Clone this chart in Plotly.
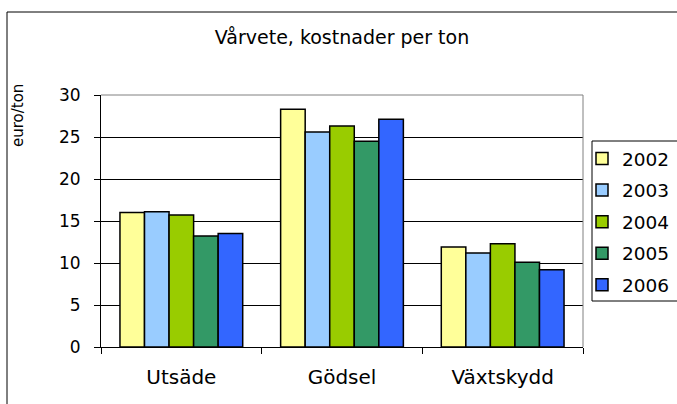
import plotly.graph_objects as go

categories = ["Utsäde", "Gödsel", "Växtskydd"]
years = ["2002", "2003", "2004", "2005", "2006"]
values_2002 = [16.0, 28.3, 11.9]
values_2003 = [16.1, 25.6, 11.2]
values_2004 = [15.7, 26.3, 12.3]
values_2005 = [13.2, 24.5, 10.1]
values_2006 = [13.5, 27.1, 9.2]
series = [values_2002, values_2003, values_2004, values_2005, values_2006]
colors = ["#FFFF99", "#99CCFF", "#99CC00", "#339966", "#3366FF"]
y_ticks = [0, 5, 10, 15, 20, 25, 30]

W, H = 677, 404
L, R, T, B = 101, 583, 95, 347
pw, ph = R - L, B - T
FONT = "DejaVu Sans, Verdana, sans-serif"

fig = go.Figure()
for i, (yr, vals) in enumerate(zip(years, series)):
    fig.add_trace(go.Bar(
        name=yr, x=categories, y=vals,
        marker=dict(color=colors[i], line=dict(color="black", width=1.5)),
        legendgroup=yr,
    ))

def px_x(p):
    return (p - L) / pw

def px_y(p):
    return (B - p) / ph

fig.update_layout(
    width=W, height=H,
    margin=dict(l=L, r=W - R, t=T, b=H - B, pad=0, autoexpand=False),
    paper_bgcolor="white", plot_bgcolor="white",
    barmode="group", bargap=0.236, bargroupgap=0,
    font=dict(family=FONT, color="black", size=16),
    title=dict(text="Vårvete, kostnader per ton", x=px_x(342), xanchor="center",
               xref="paper", y=1 - 37 / H, yanchor="middle",
               font=dict(size=19, family=FONT)),
    showlegend=True,
    legend=dict(x=px_x(582), y=px_y(140), xanchor="left", yanchor="top",
                borderwidth=0, bgcolor="rgba(0,0,0,0)",
                font=dict(size=18.5, family=FONT), traceorder="grouped",
                tracegroupgap=4.5, itemwidth=30),
    xaxis=dict(showline=True, linecolor="black", linewidth=1, ticks="outside",
               tickson="boundaries", ticklen=6, tickcolor="black",
               tickfont=dict(size=20, family=FONT), showgrid=False,
               automargin=False, ticklabelstandoff=12),
    yaxis=dict(range=[0, 30], tickvals=y_ticks, showline=True, linecolor="black",
               linewidth=1, ticks="outside", ticklen=6, tickcolor="black",
               showgrid=True, gridcolor="black", gridwidth=1, zeroline=False,
               tickfont=dict(size=17, family=FONT), automargin=False,
               ticklabelstandoff=10),
    shapes=[
        dict(type="line", xref="paper", yref="paper", x0=0, x1=1, y0=1, y1=1,
             line=dict(color="#808080", width=1)),
        dict(type="line", xref="paper", yref="paper", x0=1, x1=1, y0=0, y1=1,
             line=dict(color="#808080", width=1)),
        dict(type="rect", xref="paper", yref="paper", x0=px_x(7), x1=px_x(690),
             y0=px_y(420), y1=px_y(12), line=dict(color="black", width=1),
             layer="below"),
        dict(type="rect", xref="paper", yref="paper", x0=px_x(592), x1=px_x(690),
             y0=px_y(301), y1=px_y(141), line=dict(color="black", width=1),
             fillcolor="white", layer="above"),
    ],
    annotations=[
        dict(text="euro/ton", xref="paper", yref="paper", x=px_x(18), y=px_y(116),
             textangle=-90, showarrow=False, font=dict(size=15, family=FONT),
             xanchor="center", yanchor="middle"),
    ],
)

fig.write_html("out.html", config={"displayModeBar": False},
               post_script="document.body.style.margin='0';document.body.style.overflow='hidden';")
